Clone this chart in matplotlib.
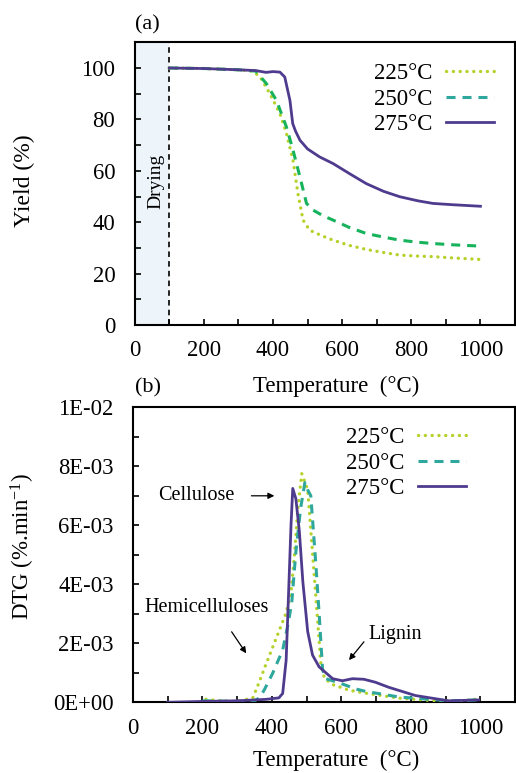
import matplotlib
matplotlib.use("Agg")
import matplotlib.pyplot as plt
from matplotlib.lines import Line2D
import numpy as np

plt.rcParams['font.family'] = ['Liberation Serif', 'DejaVu Serif']
plt.rcParams['mathtext.fontset'] = 'custom'
plt.rcParams['mathtext.rm'] = 'Liberation Serif'
plt.rcParams['mathtext.it'] = 'Liberation Serif:italic'
plt.rcParams['lines.scale_dashes'] = False

# ---------------- data ----------------
labels = ['225°C', '250°C', '275°C']

# TG (yield %)
tg225_T = [100, 200, 300, 340, 362, 391, 420, 439, 458, 472, 487, 506, 540, 574, 620, 670, 720, 767, 820, 863, 920, 1000]
tg225_Y = [100, 99.8, 99.3, 98.8, 96.7, 90, 82.3, 74.5, 64.1, 51.2, 40.8, 36.9, 34.8, 33, 31, 29.4, 28.2, 27.2, 26.8, 26.6, 26.1, 25.5]

tg250_T = [100, 200, 300, 350, 381, 410, 439, 458, 478, 497, 516, 545, 574, 620, 670, 720, 767, 820, 863, 920, 1000]
tg250_Y = [100, 99.8, 99.3, 98.8, 93.9, 87.4, 77, 68, 57.6, 47.3, 44.7, 42.5, 40.8, 38, 35.6, 34.2, 33, 32.2, 31.7, 31.2, 30.7]

tg275_T = [100, 200, 300, 350, 380, 400, 420, 434, 449, 457, 465, 478, 500, 535, 574, 620, 670, 720, 767, 820, 863, 920, 1000]
tg275_Y = [100, 99.8, 99.3, 99, 98.3, 98.6, 98.4, 96.5, 87.4, 78.4, 75.5, 71.9, 68.5, 65.4, 62.8, 59, 55, 52, 49.9, 48.3, 47.3, 46.8, 46.2]

# DTG (in units of 1E-03 %.min-1)
dtg225_T = [210, 250, 300, 345, 364, 380, 400, 420, 440, 455, 465, 475, 486, 497, 503, 512, 527, 541, 551, 575, 622, 670, 766, 861, 950, 985, 1000]
dtg225_Y = [0.1, 0.05, 0.03, 0.15, 0.7, 1.2, 1.8, 2.4, 3.0, 3.7, 5.0, 6.6, 7.75, 7.4, 7.2, 5.84, 3.5, 1.3, 0.82, 0.6, 0.41, 0.31, 0.14, 0.06, 0.05, 0.1, 0.2]

dtg250_T = [200, 300, 350, 364, 378, 402, 431, 445, 457, 469, 483, 495, 503, 512, 527, 536, 546, 555, 594, 642, 670, 766, 909, 995]
dtg250_Y = [0.05, 0.03, 0.05, 0.15, 0.42, 0.98, 1.77, 2.56, 3.36, 5.1, 6.6, 7.45, 7.2, 7.0, 4.6, 3.0, 1.1, 0.8, 0.66, 0.45, 0.37, 0.18, 0.05, 0.08]

dtg275_T = [100, 200, 300, 383, 420, 431, 441, 448, 455, 460, 469, 479, 489, 503, 517, 536, 575, 603, 632, 665, 698, 736, 813, 909, 995]
dtg275_Y = [0, 0.03, 0.05, 0.1, 0.15, 0.3, 1.43, 3.7, 6.0, 7.25, 6.9, 5.8, 4.1, 2.4, 1.6, 1.2, 0.8, 0.73, 0.8, 0.78, 0.68, 0.51, 0.23, 0.05, 0.08]

x_major = [0, 200, 400, 600, 800, 1000]
y_top_major = [0, 20, 40, 60, 80, 100]
y_bot_major = [0, 2e-3, 4e-3, 6e-3, 8e-3, 1e-2]

# ---------------- styles ----------------
c225 = '#b5d22c'
c250_top = '#17b35c'
c250_bot = '#2ea79c'
c275 = '#4f3b8e'

dot_style = dict(color=c225, lw=2.4, linestyle=(0, (0.1, 4.8)), dash_capstyle='round')
dash_style = dict(lw=2.2, linestyle=(0, (6.5, 5.0)))
solid_style = dict(color=c275, lw=2.0)

W, H = 516, 773
fig = plt.figure(figsize=(W / 100, H / 100), dpi=100)

def px_axes(left, top, right, bottom):
    return fig.add_axes([left / W, 1 - bottom / H, (right - left) / W, (bottom - top) / H])

ax1 = px_axes(134.7, 42.3, 515, 325)
ax2 = px_axes(133, 407.3, 515, 702.3)

for ax in (ax1, ax2):
    for s in ax.spines.values():
        s.set_linewidth(1.5)
    ax.tick_params(which='both', direction='in', length=4, width=1.2,
                   top=False, right=False, labelsize=16.3)
    ax.tick_params(axis='x', pad=11)
    ax.tick_params(axis='y', pad=14)
    ax.set_xlim(0, 1100)
    ax.set_xticks(x_major)
    ax.set_xticks([100, 300, 500, 700, 900], minor=True)

# ---- top panel ----
ax1.set_ylim(0, 110)
ax1.set_yticks(y_top_major)
ax1.set_yticks([10, 30, 50, 70, 90], minor=True)
ax1.axvspan(0, 100, color='#eef5fa', zorder=0, lw=0)
ax1.axvline(100, color='k', lw=1.2, linestyle=(0, (4, 3)), zorder=1)
ax1.plot(tg225_T, tg225_Y, **dot_style, zorder=3)
ax1.plot(tg250_T, tg250_Y, color=c250_top, **dash_style, zorder=3)
ax1.plot(tg275_T, tg275_Y, **solid_style, zorder=4)
ax1.text(62, 56, 'Drying', rotation=90, ha='center', va='center', fontsize=14)

h_top = [Line2D([], [], **dot_style),
         Line2D([], [], color=c250_bot, **dash_style),
         Line2D([], [], **solid_style)]
ax1.legend(h_top, labels, markerfirst=False, frameon=False, fontsize=16.5,
           loc='upper right', bbox_to_anchor=(494 / W, 1 - 63 / H),
           bbox_transform=fig.transFigure, borderpad=0, borderaxespad=0,
           handlelength=2.1, handletextpad=0.6, labelspacing=0.2)

# ---- bottom panel ----
ax2.set_ylim(0, 0.01)
ax2.set_yticks(y_bot_major)
ax2.set_yticks([1e-3, 3e-3, 5e-3, 7e-3, 9e-3], minor=True)
ax2.set_yticklabels([f'{v:.0E}' for v in y_bot_major])
ax2.plot(dtg225_T, np.array(dtg225_Y) * 1e-3, **dot_style, zorder=3)
ax2.plot(dtg250_T, np.array(dtg250_Y) * 1e-3, color=c250_bot, **dash_style, zorder=3)
ax2.plot(dtg275_T, np.array(dtg275_Y) * 1e-3, **solid_style, zorder=4)

h_bot = [Line2D([], [], **dot_style),
         Line2D([], [], color=c250_bot, **dash_style),
         Line2D([], [], **solid_style)]
ax2.legend(h_bot, labels, markerfirst=False, frameon=False, fontsize=16.5,
           loc='upper right', bbox_to_anchor=(466 / W, 1 - 427 / H),
           bbox_transform=fig.transFigure, borderpad=0, borderaxespad=0,
           handlelength=2.1, handletextpad=0.6, labelspacing=0.2)

arrow = dict(arrowstyle='-|>', color='k', lw=0.9, mutation_scale=9, shrinkA=0, shrinkB=0)
ax2.text(181, 7.0e-3, 'Cellulose', ha='center', va='center', fontsize=14.5)
ax2.annotate('', xy=(407, 7.0e-3), xytext=(341, 7.0e-3), arrowprops=arrow)
ax2.text(212, 3.2e-3, 'Hemicelluloses', ha='center', va='center', fontsize=14.5)
ax2.annotate('', xy=(326, 1.66e-3), xytext=(284, 2.39e-3), arrowprops=arrow)
ax2.text(756, 2.3e-3, 'Lignin', ha='center', va='center', fontsize=14.5)
ax2.annotate('', xy=(622, 1.43e-3), xytext=(665, 2.05e-3), arrowprops=arrow)

# ---- labels ----
fig.text(147 / W, 1 - 25 / H, '(a)', ha='center', va='center', fontsize=16)
fig.text(148 / W, 1 - 388 / H, '(b)', ha='center', va='center', fontsize=16)
fig.text(336.5 / W, 1 - 386 / H, 'Temperature  (°C)', ha='center', va='center', fontsize=16.5)
fig.text(336 / W, 1 - 760 / H, 'Temperature  (°C)', ha='center', va='center', fontsize=16.5)
fig.text(24 / W, 1 - 181 / H, 'Yield (%)', rotation=90, ha='center', va='center', fontsize=17)
fig.text(23 / W, 1 - 546.5 / H, r'DTG (%.min$^{\mathregular{-1}}$)', rotation=90,
         ha='center', va='center', fontsize=16.5)

fig.savefig('out.png', dpi=100)
